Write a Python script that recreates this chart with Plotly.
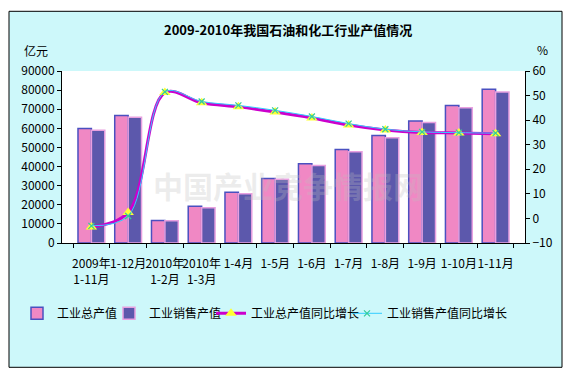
import plotly.graph_objects as go

categories = ["2009年<br>1-11月", "1-12月", "2010年<br>1-2月", "2010年<br>1-3月", "1-4月", "1-5月",
              "1-6月", "1-7月", "1-8月", "1-9月", "1-10月", "1-11月"]
total_output = [59900, 66700, 11800, 19200, 26500, 33800, 41500, 48900, 56200, 63800, 71900, 80500]
sales_output = [59000, 65800, 11600, 18500, 25800, 33300, 40500, 47800, 55100, 63100, 70800, 79000]
total_growth = [-3.5, 2.4, 51.2, 47.1, 45.4, 43.3, 40.9, 38.0, 36.0, 35.0, 34.8, 34.5]
sales_growth = [-3.0, 1.0, 51.5, 47.6, 46.0, 44.0, 41.5, 38.6, 36.3, 35.2, 34.9, 34.7]

FONT = "Noto Sans CJK SC"
L, R, T, B = 62, 525, 70.7, 242.7
PW, PH = R - L, B - T


def px(x):
    return (x - L) / PW


def py(y):
    return (B - y) / PH


fig = go.Figure()
fig.add_trace(go.Bar(x=categories, y=total_output, name="工业总产值", legend="legend",
                     marker=dict(color="#f088c4", line=dict(color="#4a50c0", width=1.5))))
fig.add_trace(go.Bar(x=categories, y=sales_output, name="工业销售产值", legend="legend2",
                     marker=dict(color="#5c58ac", line=dict(color="#e8a0e0", width=1.5))))
fig.add_trace(go.Scatter(x=categories, y=total_growth, name="工业总产值同比增长", yaxis="y2", legend="legend3",
                         mode="lines+markers", line=dict(color="#cc00cc", width=3, shape="spline", smoothing=1),
                         marker=dict(symbol="triangle-up", size=10, color="#ffff33", line=dict(width=0))))
fig.add_trace(go.Scatter(x=categories, y=sales_growth, name="工业销售产值同比增长", yaxis="y2", legend="legend4",
                         mode="lines+markers", line=dict(color="#33ccff", width=1, shape="spline", smoothing=1),
                         marker=dict(symbol="x-thin", size=6, color="#33cc99", line=dict(width=1.2, color="#33cc99"))))

# frame + plot background
fig.add_shape(type="rect", xref="paper", yref="paper", x0=px(9), x1=px(562), y0=py(367), y1=py(11),
              fillcolor="#cdf8fa", line=dict(color="black", width=1), layer="below")
fig.add_shape(type="rect", xref="paper", yref="paper", x0=0, x1=1, y0=0, y1=1,
              fillcolor="white", line=dict(width=0), layer="below")

fig.add_annotation(text="2009-2010年我国石油和化工行业产值情况", xref="paper", yref="paper",
                   x=px(288), y=py(29), xanchor="center", yanchor="middle", showarrow=False,
                   font=dict(family=FONT, size=13, color="black", weight="bold"))
fig.add_annotation(text="亿元", xref="paper", yref="paper", x=px(22), y=py(50),
                   xanchor="left", yanchor="middle",
                   showarrow=False, font=dict(family=FONT, size=12, color="black"))
fig.add_annotation(text="%", xref="paper", yref="paper", x=px(542), y=py(49),
                   xanchor="center", yanchor="middle",
                   showarrow=False, font=dict(family=FONT, size=12, color="black"))
fig.add_annotation(text="中国产业竞争情报网", xref="paper", yref="paper", x=px(288),
                   y=py(185), xanchor="center", yanchor="middle", showarrow=False,
                   font=dict(family=FONT, size=30, color="rgba(190,190,190,0.28)", weight="bold"))

leg_common = dict(orientation="h", xanchor="left", yanchor="middle", y=py(313),
                  font=dict(family=FONT, size=12), itemwidth=30, bgcolor="rgba(0,0,0,0)")

fig.update_layout(
    width=573, height=380,
    margin=dict(l=L, r=573 - R, t=T, b=380 - B),
    paper_bgcolor="white", plot_bgcolor="rgba(0,0,0,0)",
    barmode="group", bargap=0.27, bargroupgap=0,
    font=dict(family=FONT, size=11, color="black"),
    showlegend=True,
    legend=dict(x=px(58 - 41), **leg_common),
    legend2=dict(x=px(150 - 41), **leg_common),
    legend3=dict(x=px(252 - 41), **leg_common),
    legend4=dict(x=px(388 - 41), **leg_common),
    xaxis=dict(showline=True, linecolor="black", linewidth=1, ticks="outside", tickson="boundaries",
               ticklen=4, tickcolor="black", showgrid=False, tickangle=0, ticklabelstandoff=10,
               tickfont=dict(family=FONT, size=12)),
    yaxis=dict(range=[0, 90000], dtick=10000, showline=True, linecolor="black", ticks="outside",
               ticklen=4, tickcolor="black", showgrid=False, zeroline=False, tickformat="d",
               tickfont=dict(family=FONT, size=12)),
    yaxis2=dict(range=[-10, 60], dtick=10, overlaying="y", side="right", showline=True, linecolor="black",
                ticks="outside", ticklen=4, tickcolor="black", showgrid=False, zeroline=False,
                tickfont=dict(family=FONT, size=12)),
)

fig.write_html("out.html", config={"displayModeBar": False},
               post_script="document.body.style.margin='0';document.body.style.overflow='hidden';")
